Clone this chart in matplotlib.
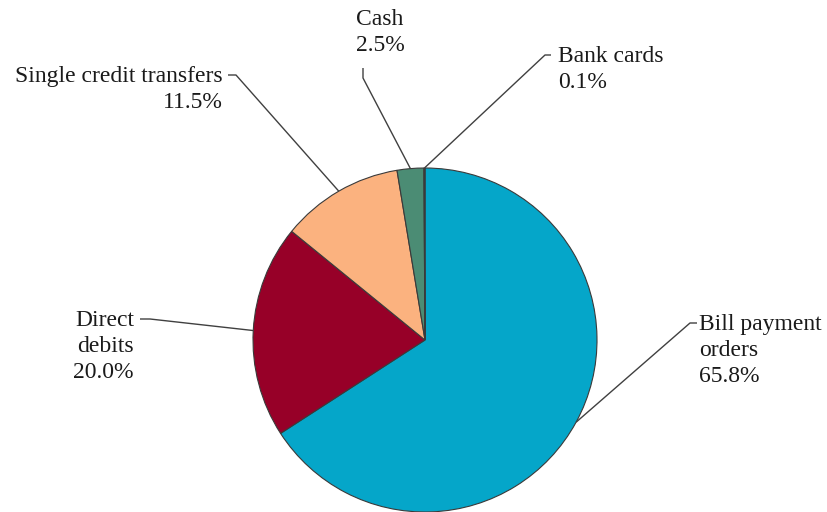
import numpy as np
import matplotlib
matplotlib.use("Agg")
import matplotlib.pyplot as plt

categories = ["Bill payment\norders", "Direct\ndebits", "Single credit transfers", "Cash", "Bank cards"]
values = [65.8, 20.0, 11.5, 2.5, 0.1]
pct_labels = ["65.8%", "20.0%", "11.5%", "2.5%", "0.1%"]
colors = ["#05A6C9", "#970028", "#FBB27F", "#4B8C74", "#E23A1E"]

plt.rcParams['font.family'] = ['Liberation Serif', 'DejaVu Serif']

W, H = 827, 512
fig = plt.figure(figsize=(W / 100, H / 100), dpi=100)
ax = fig.add_axes([0, 0, 1, 1])
ax.set_xlim(0, W)
ax.set_ylim(0, H)
ax.set_aspect('equal')
ax.axis('off')

cx, cy, r = 425, H - 340, 172
wedges, _ = ax.pie(values, colors=colors, startangle=90, counterclock=False,
                   center=(cx, cy), radius=r, frame=True,
                   wedgeprops=dict(edgecolor='#3a3a3a', linewidth=0.8))
ax.set_xlim(0, W)
ax.set_ylim(0, H)
ax.axis('off')

# label layout: (elbow point, line end, text pos, ha, va, multi-align)
layout = [
    ((690, 323), (697, 323), (699, 314), 'left', 'top', 'left'),
    ((150, 319), (140, 319), (134, 310), 'right', 'top', 'right'),
    ((236, 75), (228, 75), (223, 66), 'right', 'top', 'right'),
    ((363, 78), (363, 68), (356, 9), 'left', 'top', 'left'),
    ((545, 55), (551, 55), (558, 46), 'left', 'top', 'left'),
]

fs = 17
for w, cat, pct, (elb, end, tp, ha, va, ma) in zip(wedges, categories, pct_labels, layout):
    ang = np.deg2rad((w.theta1 + w.theta2) / 2)
    px, py = cx + r * np.cos(ang), cy + r * np.sin(ang)
    xs = [px, elb[0], end[0]]
    ys = [py, H - elb[1], H - end[1]]
    ax.plot(xs, ys, color='#404040', linewidth=1.0, solid_capstyle='butt')
    ax.text(tp[0], H - tp[1], cat + "\n" + pct, ha=ha, va=va, multialignment=ma,
            fontsize=fs, color='#1a1a1a', linespacing=1.3)

fig.savefig("out.png", dpi=100)
